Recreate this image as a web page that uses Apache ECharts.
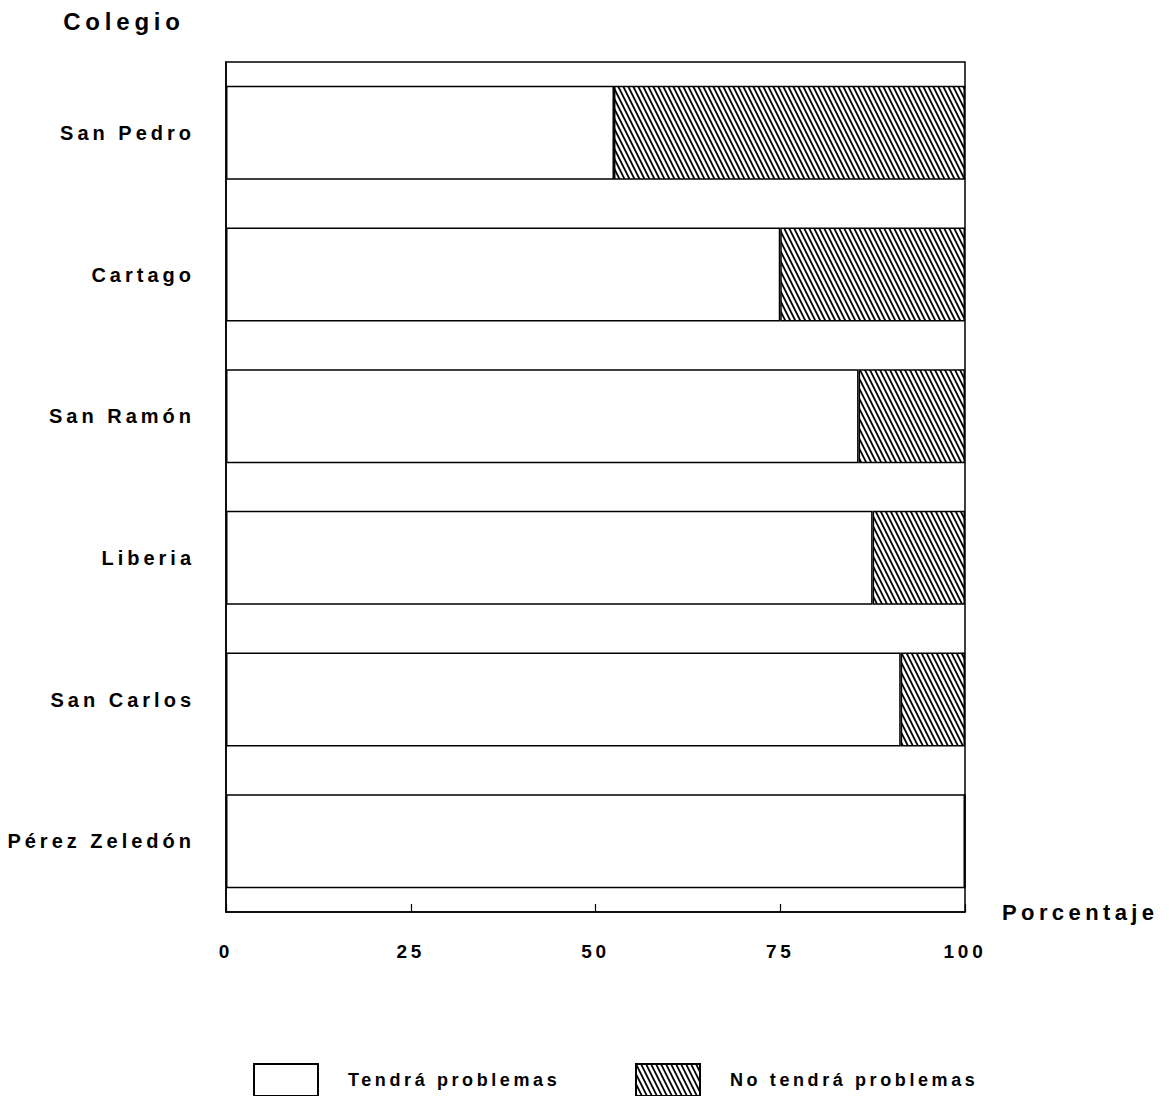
<!DOCTYPE html>
<html><head><meta charset="utf-8">
<script src="https://cdn.jsdelivr.net/npm/echarts@6/dist/echarts.min.js"></script>
<style>
html,body{margin:0;padding:0;background:#fff;}
#chart{width:1169px;height:1096px;}
#chart svg text{letter-spacing:0.2em;}
</style></head><body><div id="chart"></div>
<script>
const categories = ['San Pedro', 'Cartago', 'San Ramón', 'Liberia', 'San Carlos', 'Pérez Zeledón'];
const tendraProblemas = [52.5, 75.0, 85.6, 87.5, 91.3, 100];
const noTendraProblemas = [47.5, 25.0, 14.4, 12.5, 8.7, 0];
const seriesNames = ['Tendrá problemas', 'No tendrá problemas'];
const xAxisName = 'Porcentaje';
const yAxisName = 'Colegio';

function hatch() {
  const c = document.createElement('canvas');
  c.width = 5; c.height = 10;
  const ctx = c.getContext('2d');
  ctx.fillStyle = '#fff';
  ctx.fillRect(0, 0, 5, 10);
  ctx.strokeStyle = '#000';
  ctx.lineWidth = 1.8;
  for (const o of [-5, 0, 5]) {
    ctx.beginPath();
    ctx.moveTo(o - 5, -10);
    ctx.lineTo(o + 10, 20);
    ctx.stroke();
  }
  return c;
}
const hatchPattern = { image: hatch(), repeat: 'repeat' };
const FONT = 'Liberation Sans, Arial, Helvetica, sans-serif';

const chart = echarts.init(document.getElementById('chart'), null, { renderer: 'svg' });
chart.setOption({
  animation: false,
  backgroundColor: '#fff',
  textStyle: { fontFamily: FONT, fontWeight: 'bold', color: '#000' },
  grid: { left: 226, right: 204, top: 62, bottom: 184, show: true, borderColor: '#000', borderWidth: 1.5, backgroundColor: 'transparent' },
  xAxis: {
    type: 'value', min: 0, max: 100, interval: 25,
    name: xAxisName, nameLocation: 'end', nameGap: 37,
    nameTextStyle: { fontFamily: FONT, fontSize: 22, fontWeight: 'bold', color: '#000', align: 'left', verticalAlign: 'middle' },
    axisLine: { show: true, lineStyle: { color: '#000', width: 1.5 } },
    axisTick: { show: true, inside: true, length: 8, lineStyle: { color: '#000', width: 1.2 } },
    splitLine: { show: false },
    axisLabel: { margin: 30, fontFamily: FONT, fontSize: 19, fontWeight: 'bold', color: '#000' }
  },
  yAxis: {
    type: 'category', data: categories, inverse: true,
    axisLine: { show: true, lineStyle: { color: '#000', width: 1.5 } },
    axisTick: { show: true, inside: true, alignWithLabel: true, length: 8, lineStyle: { color: '#000', width: 1.2 } },
    splitLine: { show: false },
    axisLabel: { margin: 31, fontFamily: FONT, fontSize: 20, fontWeight: 'bold', color: '#000' }
  },
  legend: [
    { data: [seriesNames[0]], left: 253, top: 1063, padding: 0, itemWidth: 64, itemHeight: 32, icon: 'rect',
      textStyle: { fontFamily: FONT, fontSize: 18, fontWeight: 'bold', color: '#000', padding: [0, 0, 0, 25] } },
    { data: [seriesNames[1]], left: 635, top: 1063, padding: 0, itemWidth: 64, itemHeight: 32, icon: 'rect',
      textStyle: { fontFamily: FONT, fontSize: 18, fontWeight: 'bold', color: '#000', padding: [0, 0, 0, 25] } }
  ],
  graphic: [
    { type: 'text', x: 124, y: 21, style: { text: yAxisName, font: 'bold 24px ' + FONT, fill: '#000', textAlign: 'center', textVerticalAlign: 'middle' } }
  ],
  series: [
    { name: seriesNames[0], type: 'bar', stack: 'total', data: tendraProblemas, barWidth: 94,
      itemStyle: { color: '#fff', borderColor: '#000', borderWidth: 1.5 } },
    { name: seriesNames[1], type: 'bar', stack: 'total', data: noTendraProblemas, barWidth: 94,
      itemStyle: { color: hatchPattern, borderColor: '#000', borderWidth: 1.5 } }
  ]
});
</script></body></html>
